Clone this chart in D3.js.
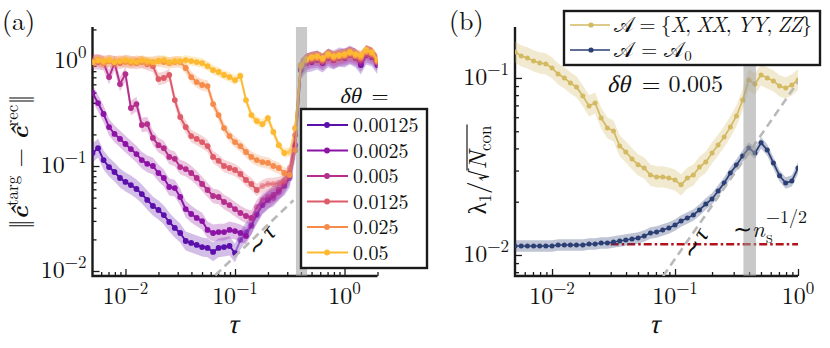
<!DOCTYPE html>
<html>
<head>
<meta charset="utf-8">
<script src="https://cdn.jsdelivr.net/npm/d3@7"></script>
<style>
  body { margin: 0; background: #fff; }
  svg { display: block; }
</style>
</head>
<body>
<svg id="fig" width="830" height="348"></svg>
<script>
// ---- data ----
const tauA = [0.005, 0.00562, 0.00631, 0.00708, 0.00794, 0.00891, 0.01, 0.0112, 0.0126, 0.0141,
  0.0158, 0.0178, 0.02, 0.0224, 0.0251, 0.0282, 0.0316, 0.0355, 0.0398, 0.0447,
  0.0501, 0.0562, 0.0631, 0.0708, 0.0794, 0.0891, 0.1, 0.112, 0.126, 0.141,
  0.158, 0.178, 0.2, 0.224, 0.251, 0.282, 0.316, 0.355, 0.398, 0.447,
  0.501, 0.562, 0.631, 0.708, 0.794, 0.891, 1, 1.12, 1.26, 1.41,
  1.58, 1.78, 2.0];
const tauB = tauA.slice(0, 47);

// panel (a): ||c_targ - c_rec|| for each dtheta
const dthetaLabels = ["0.00125", "0.0025", "0.005", "0.0125", "0.025", "0.05"];
const err00125 = [0.133, 0.148, 0.114, 0.0978, 0.0877, 0.0769, 0.0705, 0.0659, 0.0604, 0.0541,
  0.0475, 0.0416, 0.0381, 0.0341, 0.0293, 0.0257, 0.0230, 0.0193, 0.0185, 0.0177,
  0.0169, 0.0166, 0.0152, 0.0166, 0.0169, 0.0173, 0.0148, 0.0197, 0.0235, 0.0274,
  0.0341, 0.0425, 0.0475, 0.0530, 0.0591, 0.0645, 0.0769, 0.142, 0.821, 0.957,
  0.978, 1.022, 0.957, 1.068, 1.022, 1.092, 1.068, 1.141, 1.068, 0.916,
  1.141, 1.092, 0.916];
const err0025 = [0.496, 0.398, 0.313, 0.235, 0.202, 0.181, 0.162, 0.145, 0.130, 0.114,
  0.105, 0.100, 0.0858, 0.0769, 0.0631, 0.0617, 0.0507, 0.0389, 0.0349, 0.0320,
  0.0299, 0.0246, 0.0230, 0.0235, 0.0235, 0.0246, 0.0240, 0.0230, 0.0216, 0.0268,
  0.0349, 0.0425, 0.0475, 0.0496, 0.0565, 0.0659, 0.0803, 0.158, 0.858, 0.978,
  1.022, 1.045, 0.978, 1.092, 1.022, 1.068, 1.092, 1.141, 1.092, 0.957,
  1.166, 1.116, 0.957];
const err005 = [0.978, 0.978, 0.957, 0.704, 0.957, 0.604, 0.752, 0.357, 0.389, 0.246,
  0.251, 0.185, 0.158, 0.148, 0.122, 0.117, 0.0978, 0.0936, 0.0858, 0.0769,
  0.0674, 0.0591, 0.0518, 0.0507, 0.0454, 0.0425, 0.0389, 0.0357, 0.0334, 0.0320,
  0.0407, 0.0475, 0.0507, 0.0530, 0.0591, 0.0689, 0.0858, 0.197, 0.896, 1.0,
  1.045, 1.068, 1.0, 1.116, 1.045, 1.092, 1.116, 1.166, 1.116, 1.022,
  1.218, 1.141, 0.978];
const err0125 = [1.0, 1.022, 0.978, 1.0, 0.978, 0.957, 1.0, 0.978, 0.957, 0.978,
  0.936, 0.896, 0.674, 0.689, 0.736, 0.425, 0.293, 0.235, 0.193, 0.181,
  0.169, 0.155, 0.122, 0.112, 0.100, 0.0957, 0.0916, 0.0839, 0.0736, 0.0674,
  0.0591, 0.0645, 0.0674, 0.0674, 0.0689, 0.0720, 0.0957, 0.230, 0.916, 1.022,
  1.068, 1.068, 1.022, 1.116, 1.068, 1.116, 1.116, 1.192, 1.116, 1.068,
  1.218, 1.166, 0.978];
const err025 = [0.978, 1.0, 0.957, 1.0, 0.978, 1.0, 0.978, 0.957, 1.0, 0.978,
  0.957, 0.978, 1.0, 0.978, 0.957, 0.978, 0.978, 0.858, 0.704, 0.631,
  0.591, 0.578, 0.389, 0.306, 0.230, 0.193, 0.169, 0.155, 0.136, 0.122,
  0.114, 0.109, 0.107, 0.100, 0.0957, 0.0858, 0.0821, 0.142, 0.896, 1.022,
  1.068, 1.092, 1.045, 1.141, 1.092, 1.116, 1.141, 1.192, 1.141, 1.092,
  1.245, 1.192, 1.0];
const err05 = [0.978, 1.022, 1.0, 1.022, 0.978, 1.0, 1.022, 1.0, 0.978, 1.022,
  1.0, 0.978, 1.0, 1.022, 0.978, 1.0, 1.0, 1.022, 1.0, 0.978,
  0.957, 0.896, 0.821, 0.786, 0.736, 0.704, 0.659, 0.720, 0.425, 0.306,
  0.268, 0.251, 0.286, 0.211, 0.158, 0.133, 0.136, 0.230, 0.916, 1.045,
  1.092, 1.116, 1.068, 1.166, 1.116, 1.141, 1.166, 1.218, 1.166, 1.141,
  1.274, 1.218, 1.022];
const errSpread = [0.09, 0.08, 0.07, 0.06, 0.055, 0.045]; // log10 half-width of the shaded bands

// panel (b): lambda_1 / sqrt(N_con), dtheta = 0.005
const lamXYZ = [0.1403, 0.1331, 0.1297, 0.1248, 0.1215, 0.1200, 0.1139, 0.1053, 0.100, 0.0937,
  0.0890, 0.0791, 0.0695, 0.0722, 0.0594, 0.0522, 0.0502, 0.0413, 0.0382, 0.0349,
  0.0323, 0.0310, 0.0283, 0.0276, 0.0276, 0.0272, 0.0265, 0.0249, 0.0272, 0.0283,
  0.0314, 0.0335, 0.0377, 0.0418, 0.0464, 0.0529, 0.0610, 0.0751, 0.0974, 0.0925,
  0.1040, 0.100, 0.0962, 0.0901, 0.0878, 0.0913, 0.0974];
const lamA0 = [0.01124, 0.01124, 0.01124, 0.01124, 0.01124, 0.01124, 0.01124, 0.01139, 0.01139, 0.01139,
  0.01139, 0.01139, 0.01154, 0.01154, 0.01169, 0.01169, 0.01184, 0.01200, 0.01215, 0.01231,
  0.01248, 0.01280, 0.01331, 0.01348, 0.01384, 0.01421, 0.01477, 0.01556, 0.01618, 0.01683,
  0.01796, 0.01941, 0.02073, 0.02299, 0.02551, 0.02904, 0.03225, 0.03624, 0.04022, 0.03770,
  0.0430, 0.0392, 0.0331, 0.0280, 0.0255, 0.0262, 0.0310];
const lamSpread = [0.06, 0.032];

const shotNoise = 0.0115;          // ~ n_s^{-1/2} level
const shotTau = [0.03, 1];
const slopeA = { tau: [0.066, 0.342], c: 0.138 };   // ~ tau guide, panel (a)
const slopeB = { tau: [0.08, 1], c: 0.095 };        // ~ tau guide, panel (b)
const barTau = [0.36, 0.455];

const xMajA = [0.01, 0.1, 1];
const xMinA = [0.006, 0.007, 0.008, 0.009, 0.02, 0.03, 0.04, 0.05, 0.06, 0.07, 0.08, 0.09,
  0.2, 0.3, 0.4, 0.5, 0.6, 0.7, 0.8, 0.9, 2];
const yMajA = [0.01, 0.1, 1];
const yMinA = [0.02, 0.03, 0.04, 0.05, 0.06, 0.07, 0.08, 0.09, 0.2, 0.3, 0.4, 0.5, 0.6, 0.7, 0.8, 0.9, 2];
const xMajB = [0.01, 0.1, 1];
const xMinB = xMinA.filter(v => v < 1);
const yMajB = [0.01, 0.1];
const yMinB = [0.008, 0.009, 0.02, 0.03, 0.04, 0.05, 0.06, 0.07, 0.08, 0.09];

// ---- drawing ----
const FONT = '"Latin Modern Roman", "Liberation Serif", serif';
const GREEK = '"Liberation Serif", serif';   // Latin Modern has no Greek
const SLANT = "skewX(-13)";
const svg = d3.select("#fig");
const ink = "#1a1a1a";

const xA = d3.scaleLog().domain([0.005, 2]).range([92.5, 377.5]);
const yA = d3.scaleLog().domain([0.00896, 2.11]).range([276, 27]);
const xB = d3.scaleLog().domain([0.005, 1]).range([515, 798]);
const yB = d3.scaleLog().domain([0.00761, 0.194]).range([276, 27]);

// text helpers, so every label gets the serif face
function txt(parent, size) {
  return parent.append("text").style("font-family", FONT).attr("font-size", size).attr("fill", "#111");
}
// upright Greek slanted by hand (the italic fallback comes out too heavy)
function greekTxt(parent, size, s) {
  return parent.append("text").style("font-family", GREEK).attr("font-size", size)
    .attr("fill", "#111").text(s);
}
// "δθ = ..." centred on x
function deltaTheta(cx, y, size, rest) {
  const g = svg.append("g");
  const a = greekTxt(g, size, "\u03b4\u03b8");
  const b = txt(g, size).text(rest);
  const wa = a.node().getComputedTextLength(), wb = b.node().getComputedTextLength();
  const x0 = cx - (wa + wb) / 2;
  a.attr("transform", `translate(${x0},${y}) ${SLANT}`);
  b.attr("x", x0 + wa).attr("y", y);
}

function clipFor(id, x, y) {
  svg.append("clipPath").attr("id", id).append("rect")
    .attr("x", x.range()[0]).attr("y", y.range()[1])
    .attr("width", x.range()[1] - x.range()[0]).attr("height", y.range()[0] - y.range()[1]);
  return svg.append("g").attr("clip-path", `url(#${id})`);
}

function expo(v) {
  const e = Math.round(Math.log10(v));
  return e < 0 ? "\u2212" + (-e) : String(e);
}

function drawAxes(x, y, xMaj, xMin, yMaj, yMin) {
  const [x0, x1] = x.range(), [yb, yt] = y.range();
  const g = svg.append("g");
  const style = s => {
    s.select(".domain").remove();
    s.selectAll("line").attr("stroke", ink).attr("stroke-width", 1.3);
  };
  g.append("g").attr("transform", `translate(0,${yb})`)
    .call(d3.axisBottom(x).tickValues(xMin).tickSize(-4).tickFormat("")).call(style);
  g.append("g").attr("transform", `translate(0,${yb})`)
    .call(d3.axisBottom(x).tickValues(xMaj).tickSize(-7).tickFormat("")).call(style);
  g.append("g").attr("transform", `translate(${x0},0)`)
    .call(d3.axisLeft(y).tickValues(yMin).tickSize(-4).tickFormat("")).call(style);
  g.append("g").attr("transform", `translate(${x0},0)`)
    .call(d3.axisLeft(y).tickValues(yMaj).tickSize(-7).tickFormat("")).call(style);
  g.append("path").attr("d", `M${x0},${yt}V${yb}H${x1}`)
    .attr("fill", "none").attr("stroke", ink).attr("stroke-width", 2.4);

  xMaj.forEach(v => {
    const t = txt(g, 24).attr("x", x(v)).attr("y", 304).attr("text-anchor", "middle").text("10");
    t.append("tspan").attr("dy", -10).attr("font-size", 17).text(expo(v));
  });
  yMaj.forEach(v => {
    const t = txt(g, 24).attr("x", x0 - 6).attr("y", y(v) + 7).attr("text-anchor", "end").text("10");
    t.append("tspan").attr("dy", -10).attr("font-size", 17).text(expo(v));
  });
  // axis title tau
  greekTxt(svg, 27, "\u03c4").attr("text-anchor", "middle")
    .attr("transform", `translate(${(x0 + x1) / 2 - 2},333) ${SLANT}`);
}

function drawBar(g, x, y) {
  g.append("rect")
    .attr("x", x(barTau[0])).attr("width", x(barTau[1]) - x(barTau[0]))
    .attr("y", y.range()[1]).attr("height", y.range()[0] - y.range()[1])
    .attr("fill", "#9c9c9c").attr("opacity", 0.55);
}

function drawGuide(g, x, y, guide) {
  g.append("line")
    .attr("x1", x(guide.tau[0])).attr("y1", y(guide.c * guide.tau[0]))
    .attr("x2", x(guide.tau[1])).attr("y2", y(guide.c * guide.tau[1]))
    .attr("stroke", "#b9b9b9").attr("stroke-width", 2.6).attr("stroke-dasharray", "8,5");
}

// panel (a)
const dthetaColors = ["#5b0fab", "#8c13a6", "#b52e8e", "#de5b69", "#f58c4c", "#fdb930"];
const errSeries = [err00125, err0025, err005, err0125, err025, err05];
const iBar = d3.bisectLeft(tauA, barTau[0]) - 1;

drawAxes(xA, yA, xMajA, xMinA, yMajA, yMinA);
const gA = clipFor("clipA", xA, yA);

errSeries.forEach((vals, s) => {
  const color = dthetaColors[s];
  const f = Math.pow(10, errSpread[s]);
  const idx = d3.range(vals.length);
  const iMin = d3.minIndex(vals);
  gA.append("path").datum(idx)
    .attr("d", d3.area().x(i => xA(tauA[i])).y0(i => yA(vals[i] / f)).y1(i => yA(vals[i] * f)))
    .attr("fill", color).attr("opacity", 0.27);
  const line = d3.line().x(i => xA(tauA[i])).y(i => yA(vals[i]));
  [[0, iMin, 1], [iMin, iBar, 0.5], [iBar, vals.length - 1, 1]].forEach(([a, b, o]) => {
    gA.append("path").datum(d3.range(a, b + 1)).attr("d", line)
      .attr("fill", "none").attr("stroke", color).attr("stroke-width", 1.9).attr("opacity", o);
  });
  gA.append("g").selectAll("circle").data(idx).join("circle")
    .attr("cx", i => xA(tauA[i])).attr("cy", i => yA(vals[i])).attr("r", 2.9)
    .attr("fill", color).attr("opacity", i => (i > iMin && i < iBar) ? 0.5 : 1);
});
drawGuide(gA, xA, yA, slopeA);
drawBar(gA, xA, yA);

// panel (b)
const lamColors = ["#d3ba62", "#2b3f74"];
drawAxes(xB, yB, xMajB, xMinB, yMajB, yMinB);
const gB = clipFor("clipB", xB, yB);

function drawLam(vals, s) {
  const color = lamColors[s];
  const f = Math.pow(10, lamSpread[s]);
  const idx = d3.range(vals.length);
  gB.append("path").datum(idx)
    .attr("d", d3.area().x(i => xB(tauB[i])).y0(i => yB(vals[i] / f)).y1(i => yB(vals[i] * f)))
    .attr("fill", color).attr("opacity", 0.3);
  gB.append("path").datum(idx)
    .attr("d", d3.line().x(i => xB(tauB[i])).y(i => yB(vals[i])))
    .attr("fill", "none").attr("stroke", color).attr("stroke-width", 1.7);
  gB.append("g").selectAll("circle").data(idx).join("circle")
    .attr("cx", i => xB(tauB[i])).attr("cy", i => yB(vals[i])).attr("r", 2.5)
    .attr("fill", color);
}
drawLam(lamXYZ, 0);
gB.append("line")
  .attr("x1", xB(shotTau[0])).attr("x2", xB(shotTau[1]))
  .attr("y1", yB(shotNoise)).attr("y2", yB(shotNoise))
  .attr("stroke", "#b3121c").attr("stroke-width", 2.6).attr("stroke-dasharray", "8,3,2.5,3");
drawLam(lamA0, 1);
drawGuide(gB, xB, yB, slopeB);
drawBar(gB, xB, yB);

// ---- texts ----
txt(svg, 26).attr("x", 2).attr("y", 30).text("(a)");
txt(svg, 26).attr("x", 449).attr("y", 30).text("(b)");

// y label (a)
{
  const g = svg.append("g").attr("transform", "translate(20,162) rotate(-90)");
  const t = txt(g, 25).attr("text-anchor", "middle").attr("y", 8);
  t.append("tspan").text("\u2016");
  t.append("tspan").attr("font-weight", "bold").attr("font-style", "italic").text("\u0109");
  t.append("tspan").attr("dy", -10).attr("font-size", 17).text("targ");
  t.append("tspan").attr("dy", 10).text(" \u2212 ");
  t.append("tspan").attr("font-weight", "bold").attr("font-style", "italic").text("\u0109");
  t.append("tspan").attr("dy", -10).attr("font-size", 17).text("rec");
  t.append("tspan").attr("dy", 10).text("\u2016");
}
// y label (b)
{
  const g = svg.append("g").attr("transform", "translate(478,170) rotate(-90)");
  const t = txt(g, 25).attr("text-anchor", "middle").attr("y", 8);
  t.append("tspan").style("font-family", GREEK).text("\u03bb");
  t.append("tspan").attr("dy", 5).attr("font-size", 17).text("1");
  t.append("tspan").attr("dy", -5).text("/\u221a");
  t.append("tspan").attr("font-style", "italic").text("N");
  t.append("tspan").attr("dy", 5).attr("font-size", 17).text("con");
  const node = t.node();
  const r = node.getExtentOfChar(3), last = node.getExtentOfChar(node.getNumberOfChars() - 1);
  g.append("line").attr("x1", r.x + r.width - 1).attr("x2", last.x + last.width + 1)
    .attr("y1", 8 - 19).attr("y2", 8 - 19).attr("stroke", ink).attr("stroke-width", 1.2);
}

// guides' annotations
function simTau(x, y, rot) {
  const g = svg.append("g").attr("transform", `translate(${x},${y}) rotate(${rot})`);
  txt(g, 24).attr("x", 1).attr("text-anchor", "end").text("\u223c");
  greekTxt(g, 24, "\u03c4").attr("transform", `translate(2,0) ${SLANT}`);
}
simTau(269, 243, -50);
simTau(703, 245, -60);
{
  const t = txt(svg, 23).attr("x", 733).attr("y", 237);
  t.append("tspan").text("\u223c");
  t.append("tspan").attr("font-style", "italic").text("n");
  const w = t.node().getComputedTextLength();
  txt(svg, 17).attr("x", 733 + w + 1).attr("y", 243).text("s");
  txt(svg, 18).attr("x", 733 + w + 1).attr("y", 223).text("\u22121/2");
}
deltaTheta(665, 92, 24, "\u00a0= 0.005");

// legend (a)
deltaTheta(364, 103, 22, "\u00a0=");
{
  const g = svg.append("g");
  g.append("rect").attr("x", 301).attr("y", 109).attr("width", 126).attr("height", 159)
    .attr("fill", "#fff").attr("stroke", ink).attr("stroke-width", 2.4);
  dthetaLabels.forEach((lab, i) => {
    const yy = 125 + i * 25.5;
    g.append("line").attr("x1", 307).attr("x2", 348).attr("y1", yy).attr("y2", yy)
      .attr("stroke", dthetaColors[i]).attr("stroke-width", 1.9);
    g.append("circle").attr("cx", 327).attr("cy", yy).attr("r", 2.9).attr("fill", dthetaColors[i]);
    txt(g, 20).attr("x", 353).attr("y", yy + 7).text(lab);
  });
}
// legend (b)
{
  const g = svg.append("g");
  g.append("rect").attr("x", 564).attr("y", 11).attr("width", 256).attr("height", 54)
    .attr("fill", "#fff").attr("stroke", ink).attr("stroke-width", 2.4);
  [25, 50].forEach((yy, i) => {
    g.append("line").attr("x1", 570).attr("x2", 610).attr("y1", yy).attr("y2", yy)
      .attr("stroke", lamColors[i]).attr("stroke-width", 1.7);
    g.append("circle").attr("cx", 591).attr("cy", yy).attr("r", 2.6).attr("fill", lamColors[i]);
  });
  const t1 = txt(g, 21).attr("x", 614).attr("y", 32)
    .attr("textLength", 198).attr("lengthAdjust", "spacing");
  t1.append("tspan").text("\ud835\udc9c = {");
  ["X", ", ", "XX", ", ", "YY", ", ", "ZZ"].forEach((s, i) => {
    t1.append("tspan").attr("font-style", i % 2 ? "normal" : "italic").text(s);
  });
  t1.append("tspan").text("}");
  const t2 = txt(g, 21).attr("x", 614).attr("y", 57);
  t2.append("tspan").text("\ud835\udc9c = \ud835\udc9c");
  t2.append("tspan").attr("dy", 4).attr("font-size", 15).text("0");
}
</script>
</body>
</html>
